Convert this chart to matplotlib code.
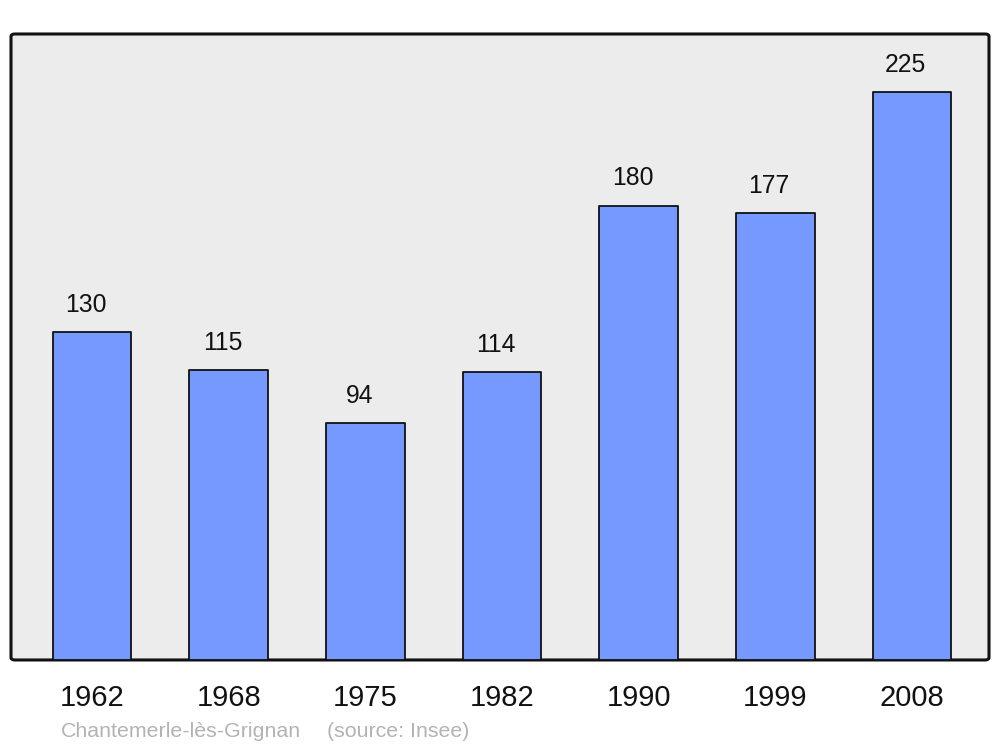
import matplotlib
matplotlib.use('Agg')
import matplotlib.pyplot as plt
from matplotlib.patches import FancyBboxPatch
import numpy as np

years = ['1962', '1968', '1975', '1982', '1990', '1999', '2008']
population = [130, 115, 94, 114, 180, 177, 225]
commune = 'Chantemerle-lès-Grignan'
source = '(source: Insee)'

plt.rcParams['font.family'] = ['Liberation Sans', 'DejaVu Sans']

fig = plt.figure(figsize=(10, 7.47), dpi=100)
ax = fig.add_axes([0.011, 0.1165, 0.978, 0.838])

# rounded frame instead of the plain spines
for s in ax.spines.values():
    s.set_visible(False)
ax.set_facecolor('none')
frame = FancyBboxPatch((0, 0), 1, 1, boxstyle='round,pad=0,rounding_size=0.004',
                       transform=ax.transAxes, facecolor='#ececec',
                       edgecolor='#111111', linewidth=2.2, zorder=0, clip_on=False)
ax.add_patch(frame)

x = np.arange(len(years))
bars = ax.bar(x, population, width=0.575, color='#7599ff', edgecolor='#111111',
              linewidth=1.3, zorder=2)
for b in bars:
    b.set_joinstyle('round')

for xi, v in zip(x, population):
    ax.annotate(str(v), (xi, v), xytext=(-4.5, 14.5), textcoords='offset points',
                ha='center', va='baseline', fontsize=17.8, color='#111111')

ax.set_xlim(-0.593, 6.563)
ax.set_ylim(0, 248)
ax.set_yticks([])
ax.set_xticks(x, labels=years)
ax.tick_params(axis='x', length=0, pad=17, labelsize=21, labelcolor='#111111')

fig.text(0.061, 1 - 737 / 747, commune, fontsize=15.4, color='#b3b3b3', va='baseline')
fig.text(0.327, 1 - 737 / 747, source, fontsize=15.4, color='#b3b3b3', va='baseline')

fig.savefig('out.png', dpi=100)
